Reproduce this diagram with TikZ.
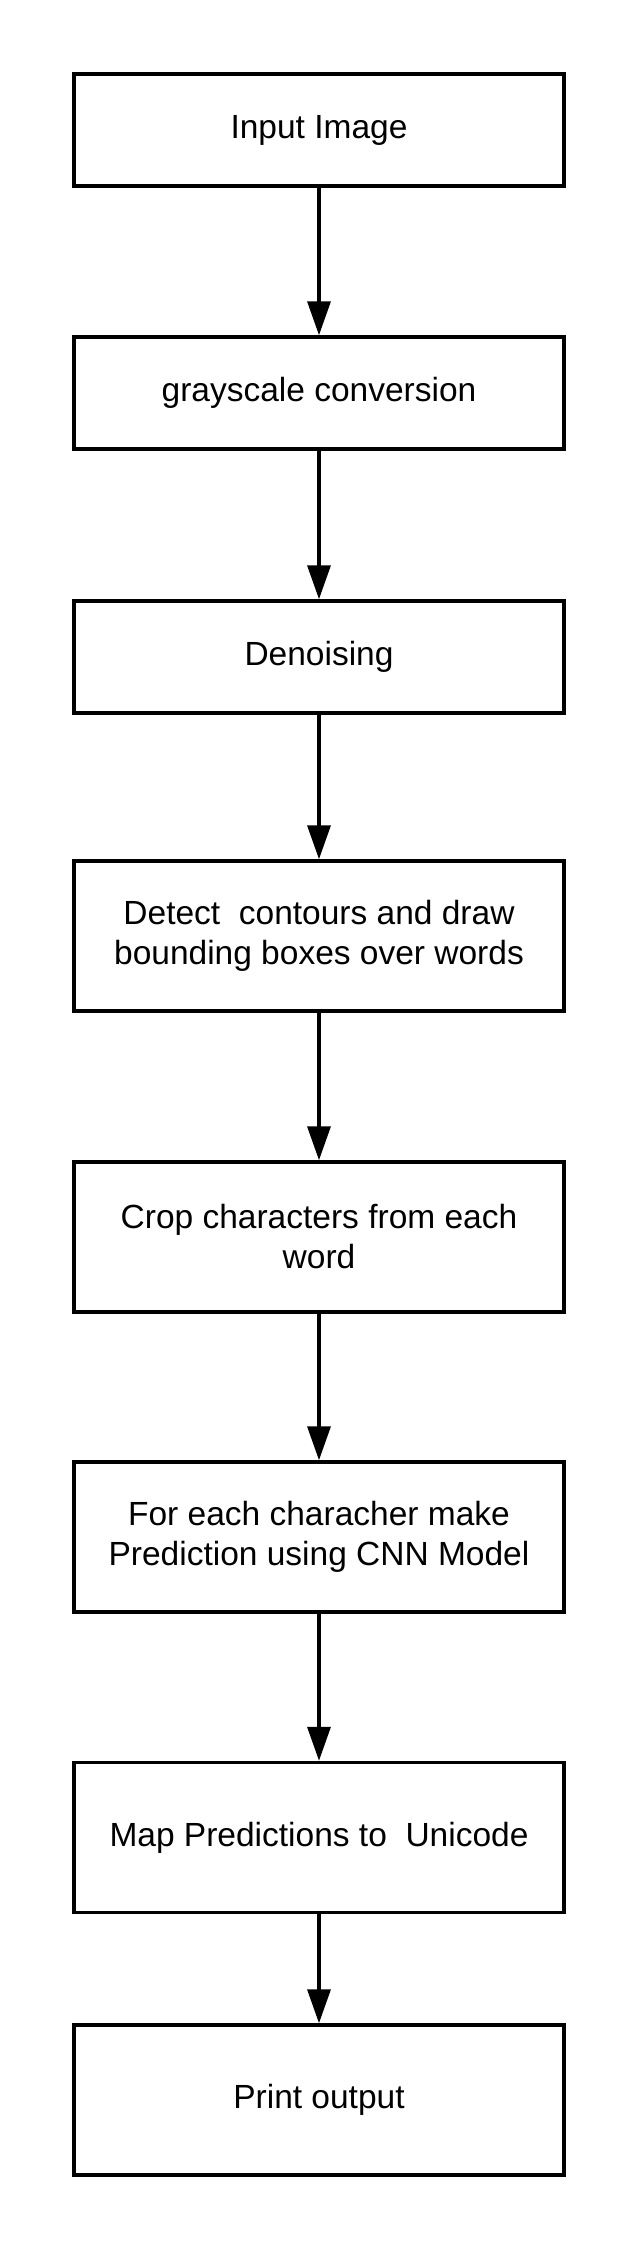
\documentclass[tikz,border=0pt]{standalone}
\usepackage{fontspec}
\setmainfont{Liberation Sans}
\usetikzlibrary{arrows.meta}
\begin{document}
\begin{tikzpicture}[x=1pt,y=-1pt,
  stepbox/.style={draw=black,line width=3.5pt,rectangle,minimum width=490pt,inner sep=0pt,align=center,
    font=\fontsize{33.5}{40}\selectfont},
  shortbox/.style={stepbox,minimum height=112pt},
  tallbox/.style={stepbox,minimum height=150pt},
  flow/.style={line width=3.5pt,-{Triangle[width=23pt,length=34pt]}}]
\useasboundingbox (0,0) rectangle (638,2250);
\node[shortbox] (n1) at (319,130) {Input Image};
\node[shortbox] (n2) at (319,393) {grayscale conversion};
\node[shortbox] (n3) at (319,657) {Denoising};
\node[tallbox] (n4) at (319,936) {Detect~ contours and draw\\bounding boxes over words};
\node[tallbox] (n5) at (319,1237) {Crop characters from each\\word};
\node[tallbox] (n6) at (319,1537) {For each characher make\\Prediction using CNN Model};
\node[tallbox] (n7) at (319,1837.5) {Map Predictions to~ Unicode};
\node[tallbox] (n8) at (319,2100) {Print output};
\draw[flow] (n1) -- (n2);
\draw[flow] (n2) -- (n3);
\draw[flow] (n3) -- (n4);
\draw[flow] (n4) -- (n5);
\draw[flow] (n5) -- (n6);
\draw[flow] (n6) -- (n7);
\draw[flow] (n7) -- (n8);
\end{tikzpicture}
\end{document}
